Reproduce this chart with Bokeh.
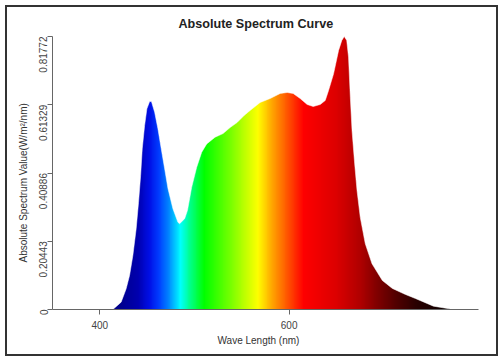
import numpy as np
from bokeh.plotting import figure
from bokeh.models import FixedTicker, Range1d, Title
from bokeh.embed import file_html
from bokeh.resources import INLINE

# ---- data ----
wavelength = [413.8, 422.5, 427.8, 431.4, 434.9, 438.4, 440.9, 443.1, 444.8, 447.3,
              449.7, 452.6, 454.5, 457.9, 461.4, 464.9, 468.5, 472.0, 477.2, 482.5,
              484.3, 489.6, 492.6, 497.0, 502.3, 507.6, 512.9, 521.7, 530.2, 537.6,
              545.0, 552.4, 558.7, 569.3, 579.9, 590.5, 597.9, 604.2, 611.6, 619.0,
              625.4, 632.8, 638.1, 641.6, 646.9, 652.2, 655.6, 658.2, 660.8, 662.7,
              664.6, 666.4, 669.2, 671.7, 675.1, 680.4, 687.5, 698.4, 709.0, 722.8,
              733.3, 752.4, 770.4, 778.8]
spectrum = [0.0, 0.022, 0.062, 0.102, 0.162, 0.242, 0.321, 0.401, 0.481, 0.551,
            0.601, 0.623, 0.623, 0.591, 0.541, 0.481, 0.421, 0.362, 0.302, 0.261,
            0.257, 0.272, 0.297, 0.366, 0.426, 0.471, 0.496, 0.516, 0.527, 0.545,
            0.560, 0.581, 0.596, 0.620, 0.632, 0.647, 0.650, 0.647, 0.632, 0.614,
            0.608, 0.614, 0.626, 0.656, 0.706, 0.776, 0.806, 0.8177, 0.806, 0.756,
            0.636, 0.536, 0.436, 0.356, 0.276, 0.197, 0.137, 0.087, 0.063, 0.045,
            0.033, 0.010, 0.0015, 0.0]
y_ticks = [0, 0.20443, 0.40886, 0.61329, 0.81772]
y_tick_labels = ["0", "0.20443", "0.40886", "0.61329", "0.81772"]
x_ticks = [400, 600]

# ---- colour stops of the spectral gradient (style) ----
stop_wl = [380, 420, 440, 452, 462, 472, 485, 495, 510, 540, 555, 567, 582, 595,
           615, 650, 675, 693, 714, 735, 760, 790]
stop_rgb = [(0, 0, 100), (0, 0, 140), (0, 0, 175), (0, 15, 230), (0, 60, 255),
            (0, 130, 255), (0, 255, 255), (0, 255, 140), (0, 255, 0), (128, 255, 0),
            (200, 255, 0), (255, 255, 0), (255, 165, 0), (255, 100, 0), (255, 0, 0),
            (220, 0, 0), (176, 0, 0), (128, 0, 0), (80, 0, 0), (40, 0, 0),
            (18, 0, 0), (5, 0, 0)]

g0, g1 = 380, 790
ncol = 820
cols = np.linspace(g0, g1, ncol)
sr = np.array(stop_rgb, dtype=float)
img = np.empty((1, ncol), dtype=np.uint32)
view = img.view(dtype=np.uint8).reshape((1, ncol, 4))
for k in range(3):
    view[0, :, k] = np.interp(cols, stop_wl, sr[:, k]).astype(np.uint8)
view[0, :, 3] = 255

FONT = "Liberation Sans"
TOP = 0.8327

p = figure(width=503, height=361, output_backend="svg", toolbar_location=None,
           x_range=Range1d(350, 800), y_range=Range1d(0, TOP),
           min_border_left=52, min_border_right=25, min_border_top=31,
           min_border_bottom=52, background_fill_color="white",
           border_fill_color="white", border_fill_alpha=0)
p.outline_line_color = None
p.grid.visible = False
p.styles = {"outline": "2px solid #333333", "outline-offset": "-7px"}

p.image_rgba(image=[img], x=g0, y=0, dw=g1 - g0, dh=0.82)

mask_x = [350] + wavelength + [800, 800, 350]
mask_y = [0] + spectrum + [0, 1.0, 1.0]
p.patch(mask_x, mask_y, fill_color="white", line_color="white", line_width=0.5)

p.title.text = "Absolute Spectrum Curve"
p.title.align = "left"
p.title.offset = 126
p.title.standoff = 1
p.title.text_font = FONT
p.title.text_font_size = "12.6px"
p.title.text_font_style = "bold"
p.title.text_color = "#222222"

for ax in (p.xaxis[0], p.yaxis[0]):
    ax.axis_line_color = "#666666"
    ax.major_tick_line_color = "#666666"
    ax.major_tick_out = 5
    ax.major_tick_in = 0
    ax.minor_tick_line_color = None
    ax.major_label_text_font = FONT
    ax.major_label_text_font_size = "10px"
    ax.major_label_text_color = "#444444"

p.xaxis.ticker = FixedTicker(ticks=x_ticks)
p.xaxis.major_label_standoff = 6

p.yaxis.ticker = FixedTicker(ticks=y_ticks)
p.yaxis.major_label_overrides = {t: l for t, l in zip(y_ticks, y_tick_labels)}
p.yaxis.major_label_orientation = np.pi / 2
p.yaxis.major_label_standoff = 4
p.yaxis.bounds = (0, y_ticks[-1])

p.add_layout(Title(text="Wave Length (nm)", align="left", offset=165, standoff=2,
                   text_font=FONT, text_font_size="10px", text_font_style="normal",
                   text_color="#333333"), "below")
p.add_layout(Title(text="Absolute Spectrum Value(W/m\u00b2/nm)", align="left", offset=47,
                   standoff=8, text_font=FONT, text_font_size="10px",
                   text_font_style="normal", text_color="#333333"), "left")

open("out.html", "w").write(file_html(p, INLINE))
